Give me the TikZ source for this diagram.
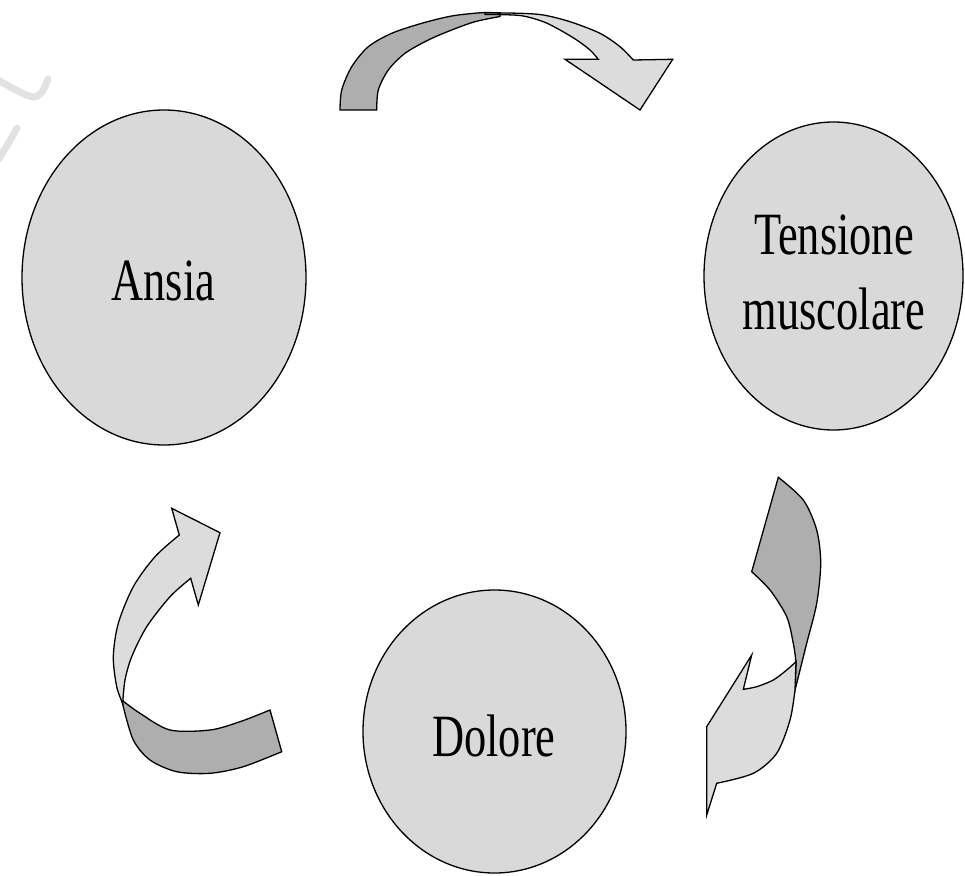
\documentclass[tikz,border=0pt]{standalone}
\usepackage{fontspec}
\newfontfamily\labfont[FakeStretch=0.74]{Liberation Serif}
\usetikzlibrary{shapes.geometric}
\definecolor{circfill}{HTML}{D9D9D9}
\definecolor{arrowdark}{HTML}{AEAEAE}
\definecolor{arrowlight}{HTML}{DCDCDC}
\definecolor{wmgray}{HTML}{E2E2E2}
\begin{document}
\begin{tikzpicture}[x=1pt,y=-1pt,
  bubble/.style={ellipse, draw=black, line width=1.3pt, fill=circfill, inner sep=0pt},
  lab/.style={font=\labfont\fontsize{60}{75}\selectfont, inner sep=0pt, align=center},
  darkpart/.style={draw=black, line width=1.3pt, fill=arrowdark},
  lightpart/.style={draw=black, line width=1.3pt, fill=arrowlight},
  wm/.style={draw=wmgray, line width=7pt, line cap=round}]
\useasboundingbox (0,0) rectangle (965,875);

% faint watermark strokes
\draw[wm] plot[smooth] coordinates {(-4,79) (18,91) (33,97) (42,92) (48,79)};
\draw[wm] plot[smooth] coordinates {(17,128) (8,144) (-2,160)};

% bubbles
\node[bubble, minimum width=284pt, minimum height=335pt] (ansia) at (164,277.5) {};
\node[bubble, minimum width=259pt, minimum height=308pt] (tensione) at (833.5,276) {};
\node[bubble, minimum width=263pt, minimum height=283pt] (dolore) at (494.5,731.5) {};

\node[lab, anchor=base] (tansia) at (163.5,300) {Ansia};
\node[lab, anchor=center] (ttensione) at (834,272) {Tensione\\muscolare};
\node[lab, anchor=base] (tdolore) at (494,756) {Dolore};

% top arrow
\filldraw[darkpart] (340,110) -- plot[smooth] coordinates {(340,110) (341.7,90) (351.7,66.7) (368.3,46.7) (391.7,33.3) (421.7,23.3) (451.7,16) (481.7,12.7) (500,13)} -- (500,16.5) -- plot[smooth] coordinates {(500,16.5) (475,21.7) (451.7,30) (428.3,40) (405,53.3) (388.3,70) (378.3,90) (376.7,110)} -- cycle;
\filldraw[lightpart] (485,12.7) -- plot[smooth] coordinates {(485,12.7) (520,13.3) (543.3,15) (570,21.7) (600,33.3) (620,46.7) (633.3,60)} -- (672.7,59.3) -- (640,110) -- (565,59.3) -- (598.3,59.3) -- plot[smooth] coordinates {(598.3,59.3) (590,50) (576.7,40) (560,30) (543.3,21.7) (520,15.5) (485,14.5)} -- cycle;

% right arrow
\filldraw[darkpart] (778.3,477.3) -- plot[smooth] coordinates {(778.3,477.3) (803.3,500) (816.7,530) (820.7,563.3) (816.7,603.3) (806.7,643.3) (795,690)} -- (796,661.7) -- plot[smooth] coordinates {(796,661.7) (793.3,643.3) (786.7,616.7) (770,590) (751.7,571.7)} -- cycle;
\filldraw[lightpart] (796,661.7) -- plot[smooth] coordinates {(796,661.7) (786.7,670) (773.3,680) (756.7,686.7) (743.3,689.3)} -- (751.7,655) -- (706.7,726.7) -- (706.7,815) -- (716.7,783.3) -- plot[smooth] coordinates {(716.7,783.3) (753.3,773.3) (776.7,753.3) (790,720) (795,690)} -- cycle;

% left arrow
\filldraw[darkpart] (121.7,700) -- plot[smooth] coordinates {(121.7,700) (140,713.3) (170,730) (210,730) (240,721.7) (270,710)} -- (281.7,751.7) -- plot[smooth] coordinates {(281.7,751.7) (243.3,766.7) (210,773.3) (176.7,771.7) (150,760) (133.3,740) (123.3,706.7)} -- cycle;
\filldraw[lightpart] (179.3,535) -- (171.7,508.3) -- (220,532.7) -- (198.3,605) -- (190.7,578.3) -- plot[smooth] coordinates {(190.7,578.3) (170,596.7) (146.7,626.7) (131.7,656.7) (125,680) (122.7,703.3)} -- plot[smooth] coordinates {(122.7,703.3) (116.7,686.7) (113.3,656.7) (118.3,623.3) (133.3,586.7) (155,556.7) (179.3,535)} -- cycle;
\end{tikzpicture}
\end{document}
